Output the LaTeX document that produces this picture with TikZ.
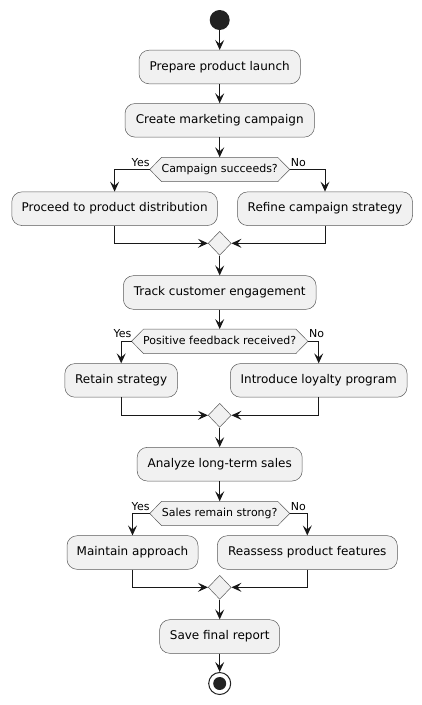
\documentclass[tikz,border=0pt]{standalone}
\usepackage{fontspec}
\setmainfont{DejaVu Sans}
\usetikzlibrary{arrows.meta,shapes.geometric,backgrounds}
\definecolor{ln}{HTML}{181818}
\definecolor{bg}{HTML}{F1F1F1}
\definecolor{bd}{HTML}{5A5A5A}
\definecolor{dot}{HTML}{222222}
\newcommand\hexof[1]{\begin{pgfonlayer}{background}\path[hex] (#1.west) -- ([xshift=12pt]#1.north west) -- ([xshift=-12pt]#1.north east) -- (#1.east) -- ([xshift=-12pt]#1.south east) -- ([xshift=12pt]#1.south west) -- cycle;\end{pgfonlayer}}
\begin{document}
\begin{tikzpicture}[x=1pt,y=-1pt,
 box/.style={rectangle, rounded corners=10pt, draw=bd, line width=0.5pt, fill=bg, minimum height=33.6pt, inner sep=0pt, font=\fontsize{12}{14}\selectfont, text height=8.7pt, text depth=2.5pt},
 dtext/.style={rectangle, inner sep=0pt, minimum height=24pt, font=\fontsize{11}{13}\selectfont, text height=8pt, text depth=2.3pt},
 hex/.style={draw=bd, line width=0.5pt, fill=bg},
 merge/.style={diamond, draw=bd, line width=0.5pt, fill=bg, minimum width=23pt, minimum height=24pt, inner sep=0pt},
 arr/.style={draw=ln, line width=1pt, -{Stealth[length=10pt,width=9pt,inset=4pt]}},
 lbl/.style={inner sep=0pt, font=\fontsize{11}{13}\selectfont}]
\useasboundingbox (0,0) rectangle (422,705);

\node[circle, fill=dot, minimum size=20pt, inner sep=0pt] (start) at (219.7,20) {};
\node[box, minimum width=161.4pt] (b1) at (219.7,67) {Prepare product launch};
\node[box, minimum width=189.4pt] (b2) at (219.7,120.3) {Create marketing campaign};
\node[dtext, minimum width=139.6pt] (d1) at (219.7,169.5) {Campaign succeeds?};
\hexof{d1}
\node[box, minimum width=205.6pt] (b3) at (114.6,208.7) {Proceed to product distribution};
\node[box, minimum width=175pt] (b4) at (325,208.7) {Refine campaign strategy};
\node[merge] (m1) at (219.7,243.3) {};

\node[box, minimum width=192.7pt] (b5) at (219.7,292.5) {Track customer engagement};
\node[dtext, minimum width=176pt] (d2) at (219.7,341.3) {Positive feedback received?};
\hexof{d2}
\node[box, minimum width=112.7pt] (b6) at (121.2,380.4) {Retain strategy};
\node[box, minimum width=176.7pt] (b7) at (318.7,380.4) {Introduce loyalty program};
\node[merge] (m2) at (219.7,415.3) {};

\node[box, minimum width=165pt] (b8) at (219.7,464.2) {Analyze long-term sales};
\node[dtext, minimum width=139.6pt] (d3) at (219.7,513.5) {Sales remain strong?};
\hexof{d3}
\node[box, minimum width=131pt] (b9) at (132.5,552.5) {Maintain approach};
\node[box, minimum width=180pt] (b10) at (307.3,552.5) {Reassess product features};
\node[merge] (m3) at (219.7,587.3) {};

\node[box, minimum width=120pt] (b11) at (219.7,636.5) {Save final report};
\node[circle, draw=dot, line width=1pt, minimum size=22pt, inner sep=0pt,
  path picture={\fill[dot] (path picture bounding box.center) circle (6.5pt);}] (end) at (219.7,683.5) {};

% labels
\node[lbl, anchor=south east] (y1) at ([yshift=3pt]d1.west) {Yes};
\node[lbl, anchor=south west] (n1) at ([xshift=1pt,yshift=3pt]d1.east) {No};
\node[lbl, anchor=south east] (y2) at ([yshift=3pt]d2.west) {Yes};
\node[lbl, anchor=south west] (n2) at ([xshift=1pt,yshift=3pt]d2.east) {No};
\node[lbl, anchor=south east] (y3) at ([yshift=3pt]d3.west) {Yes};
\node[lbl, anchor=south west] (n3) at ([xshift=1pt,yshift=3pt]d3.east) {No};

% connectors
\draw[arr] (start.south) -- (b1.north);
\draw[arr] (b1.south) -- (b2.north);
\draw[arr] (b2.south) -- (d1.north);
\draw[arr] (d1.west) -| (b3.north);
\draw[arr] (d1.east) -| (b4.north);
\draw[arr] (b3.south) |- (m1.west);
\draw[arr] (b4.south) |- (m1.east);
\draw[arr] (m1.south) -- (b5.north);
\draw[arr] (b5.south) -- (d2.north);
\draw[arr] (d2.west) -| (b6.north);
\draw[arr] (d2.east) -| (b7.north);
\draw[arr] (b6.south) |- (m2.west);
\draw[arr] (b7.south) |- (m2.east);
\draw[arr] (m2.south) -- (b8.north);
\draw[arr] (b8.south) -- (d3.north);
\draw[arr] (d3.west) -| (b9.north);
\draw[arr] (d3.east) -| (b10.north);
\draw[arr] (b9.south) |- (m3.west);
\draw[arr] (b10.south) |- (m3.east);
\draw[arr] (m3.south) -- (b11.north);
\draw[arr] (b11.south) -- (end.north);
\end{tikzpicture}
\end{document}
